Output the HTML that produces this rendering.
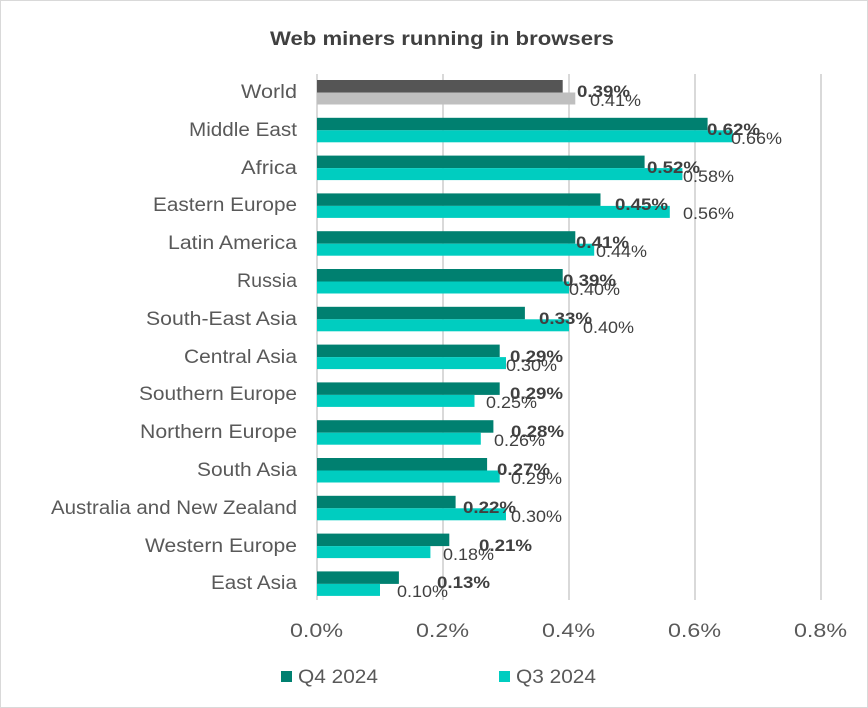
<!DOCTYPE html>
<html><head><meta charset="utf-8"><style>
html,body{margin:0;padding:0;background:#fff}
svg{display:block;font-family:"Liberation Sans",sans-serif}
</style></head><body>
<svg width="868" height="708" viewBox="0 0 868 708" xmlns="http://www.w3.org/2000/svg">
<rect x="0.5" y="0.5" width="867" height="707" fill="#fff" stroke="#d9d9d9"/>
<text x="270" y="45" font-size="19" font-weight="bold" fill="#404040" textLength="344" lengthAdjust="spacingAndGlyphs">Web miners running in browsers</text>
<g stroke="#d9d9d9" stroke-width="2">
<line x1="317" y1="74" x2="317" y2="600"/><line x1="443" y1="74" x2="443" y2="600"/><line x1="569" y1="74" x2="569" y2="600"/><line x1="695" y1="74" x2="695" y2="600"/><line x1="821" y1="74" x2="821" y2="600"/>
</g>
<g font-size="19" fill="#595959">
<text x="290" y="637" textLength="53" lengthAdjust="spacingAndGlyphs">0.0%</text><text x="416" y="637" textLength="53" lengthAdjust="spacingAndGlyphs">0.2%</text><text x="542" y="637" textLength="53" lengthAdjust="spacingAndGlyphs">0.4%</text><text x="668" y="637" textLength="53" lengthAdjust="spacingAndGlyphs">0.6%</text><text x="794" y="637" textLength="53" lengthAdjust="spacingAndGlyphs">0.8%</text>
</g>
<g font-size="19" fill="#595959">
<text x="241" y="98" textLength="56" lengthAdjust="spacingAndGlyphs">World</text>
<text x="189" y="136" textLength="108" lengthAdjust="spacingAndGlyphs">Middle East</text>
<text x="241" y="174" textLength="56" lengthAdjust="spacingAndGlyphs">Africa</text>
<text x="153" y="211" textLength="144" lengthAdjust="spacingAndGlyphs">Eastern Europe</text>
<text x="168" y="249" textLength="129" lengthAdjust="spacingAndGlyphs">Latin America</text>
<text x="237" y="287" textLength="60" lengthAdjust="spacingAndGlyphs">Russia</text>
<text x="146" y="325" textLength="151" lengthAdjust="spacingAndGlyphs">South-East Asia</text>
<text x="184" y="363" textLength="113" lengthAdjust="spacingAndGlyphs">Central Asia</text>
<text x="139" y="400" textLength="158" lengthAdjust="spacingAndGlyphs">Southern Europe</text>
<text x="140" y="438" textLength="157" lengthAdjust="spacingAndGlyphs">Northern Europe</text>
<text x="197" y="476" textLength="100" lengthAdjust="spacingAndGlyphs">South Asia</text>
<text x="51" y="514" textLength="246" lengthAdjust="spacingAndGlyphs">Australia and New Zealand</text>
<text x="145" y="552" textLength="152" lengthAdjust="spacingAndGlyphs">Western Europe</text>
<text x="211" y="589" textLength="86" lengthAdjust="spacingAndGlyphs">East Asia</text>
</g>
<rect x="317" y="80" width="245.7" height="12.5" fill="#555"/><rect x="317" y="92.5" width="258.3" height="12" fill="#bfbfbf"/>
<g fill="#008070">
<rect x="317" y="117.8" width="390.6" height="12.5"/>
<rect x="317" y="155.6" width="327.6" height="12.5"/>
<rect x="317" y="193.4" width="283.5" height="12.5"/>
<rect x="317" y="231.2" width="258.3" height="12.5"/>
<rect x="317" y="269" width="245.7" height="12.5"/>
<rect x="317" y="306.8" width="207.9" height="12.5"/>
<rect x="317" y="344.6" width="182.7" height="12.5"/>
<rect x="317" y="382.4" width="182.7" height="12.5"/>
<rect x="317" y="420.2" width="176.4" height="12.5"/>
<rect x="317" y="458" width="170.1" height="12.5"/>
<rect x="317" y="495.8" width="138.6" height="12.5"/>
<rect x="317" y="533.6" width="132.3" height="12.5"/>
<rect x="317" y="571.4" width="81.9" height="12.5"/>
</g>
<g fill="#00cdc0">
<rect x="317" y="130.3" width="415.8" height="12"/>
<rect x="317" y="168.1" width="365.4" height="12"/>
<rect x="317" y="205.9" width="352.8" height="12"/>
<rect x="317" y="243.7" width="277.2" height="12"/>
<rect x="317" y="281.5" width="252" height="12"/>
<rect x="317" y="319.3" width="252" height="12"/>
<rect x="317" y="357.1" width="189" height="12"/>
<rect x="317" y="394.9" width="157.5" height="12"/>
<rect x="317" y="432.7" width="163.8" height="12"/>
<rect x="317" y="470.5" width="182.7" height="12"/>
<rect x="317" y="508.3" width="189" height="12"/>
<rect x="317" y="546.1" width="113.4" height="12"/>
<rect x="317" y="583.9" width="63" height="12"/>
</g>
<g font-size="17" fill="#404040" font-weight="bold">
<text x="577" y="97" textLength="53" lengthAdjust="spacingAndGlyphs">0.39%</text>
<text x="707" y="135" textLength="53" lengthAdjust="spacingAndGlyphs">0.62%</text>
<text x="647" y="173" textLength="53" lengthAdjust="spacingAndGlyphs">0.52%</text>
<text x="615" y="210" textLength="53" lengthAdjust="spacingAndGlyphs">0.45%</text>
<text x="576" y="248" textLength="53" lengthAdjust="spacingAndGlyphs">0.41%</text>
<text x="563" y="286" textLength="53" lengthAdjust="spacingAndGlyphs">0.39%</text>
<text x="539" y="324" textLength="53" lengthAdjust="spacingAndGlyphs">0.33%</text>
<text x="510" y="362" textLength="53" lengthAdjust="spacingAndGlyphs">0.29%</text>
<text x="510" y="399" textLength="53" lengthAdjust="spacingAndGlyphs">0.29%</text>
<text x="511" y="437" textLength="53" lengthAdjust="spacingAndGlyphs">0.28%</text>
<text x="497" y="475" textLength="53" lengthAdjust="spacingAndGlyphs">0.27%</text>
<text x="463" y="513" textLength="53" lengthAdjust="spacingAndGlyphs">0.22%</text>
<text x="479" y="551" textLength="53" lengthAdjust="spacingAndGlyphs">0.21%</text>
<text x="437" y="588" textLength="53" lengthAdjust="spacingAndGlyphs">0.13%</text>
</g>
<g font-size="17" fill="#404040">
<text x="590" y="106" textLength="51" lengthAdjust="spacingAndGlyphs">0.41%</text>
<text x="731" y="144" textLength="51" lengthAdjust="spacingAndGlyphs">0.66%</text>
<text x="683" y="182" textLength="51" lengthAdjust="spacingAndGlyphs">0.58%</text>
<text x="683" y="219" textLength="51" lengthAdjust="spacingAndGlyphs">0.56%</text>
<text x="596" y="257" textLength="51" lengthAdjust="spacingAndGlyphs">0.44%</text>
<text x="569" y="295" textLength="51" lengthAdjust="spacingAndGlyphs">0.40%</text>
<text x="583" y="333" textLength="51" lengthAdjust="spacingAndGlyphs">0.40%</text>
<text x="506" y="371" textLength="51" lengthAdjust="spacingAndGlyphs">0.30%</text>
<text x="486" y="408" textLength="51" lengthAdjust="spacingAndGlyphs">0.25%</text>
<text x="494" y="446" textLength="51" lengthAdjust="spacingAndGlyphs">0.26%</text>
<text x="511" y="484" textLength="51" lengthAdjust="spacingAndGlyphs">0.29%</text>
<text x="511" y="522" textLength="51" lengthAdjust="spacingAndGlyphs">0.30%</text>
<text x="443" y="560" textLength="51" lengthAdjust="spacingAndGlyphs">0.18%</text>
<text x="397" y="597" textLength="51" lengthAdjust="spacingAndGlyphs">0.10%</text>
</g>
<rect x="281" y="671" width="11" height="11" fill="#008070"/>
<text x="298" y="683" font-size="19" fill="#595959" textLength="80" lengthAdjust="spacingAndGlyphs">Q4 2024</text>
<rect x="499" y="671" width="11" height="11" fill="#00cdc0"/>
<text x="516" y="683" font-size="19" fill="#595959" textLength="80" lengthAdjust="spacingAndGlyphs">Q3 2024</text>
</svg>
</body></html>
